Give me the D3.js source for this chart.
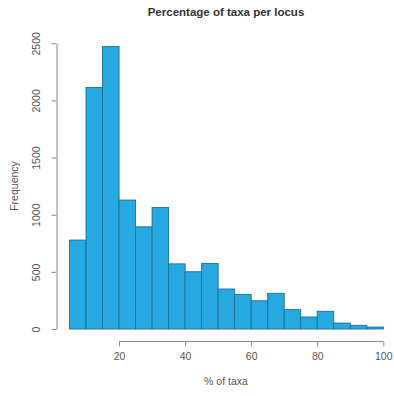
<!DOCTYPE html>
<html>
<head>
<meta charset="utf-8">
<script src="https://cdn.jsdelivr.net/npm/d3@7"></script>
<style>
  body { margin: 0; background: #fff; }
  svg { display: block; font-family: "Liberation Sans", Arial, sans-serif; }
  .axis path, .axis line { stroke: #8a8a8a; }
  .axis text { fill: #555; font-size: 10.5px; }
</style>
</head>
<body>
<svg width="394" height="396"></svg>
<script>
// bin edges (lower bound of each bin, width 5)
const binStarts = [5, 10, 15, 20, 25, 30, 35, 40, 45, 50, 55, 60, 65, 70, 75, 80, 85, 90, 95];
const counts = [778, 2113, 2471, 1128, 894, 1063, 570, 501, 574, 350, 303, 247, 312, 169, 105, 155, 52, 32, 17];
const binWidth = 5;
const xTicks = [20, 40, 60, 80, 100];
const yTicks = [0, 500, 1000, 1500, 2000, 2500];

const svg = d3.select('svg');

const x = d3.scaleLinear().domain([5, 100]).range([69.5, 383.3]);
const y = d3.scaleLinear().domain([0, 2500]).range([329, 43.3]);

// bars
svg.append('g')
    .selectAll('rect')
    .data(binStarts)
    .enter()
    .append('rect')
    .attr('x', (d) => x(d))
    .attr('y', (d, i) => y(counts[i]))
    .attr('width', (d) => x(d + binWidth) - x(d))
    .attr('height', (d, i) => y(0) - y(counts[i]))
    .attr('fill', '#25a9e0')
    .attr('stroke', '#1b6f95')
    .attr('stroke-width', 0.9);

// x axis
const xAxis = svg.append('g')
    .attr('class', 'axis')
    .attr('transform', 'translate(0, 341.5)')
    .call(d3.axisBottom(x).tickValues(xTicks).tickSize(5).tickPadding(6).tickSizeOuter(0));
xAxis.select('.domain').attr('d', `M${x(20)},0H${x(100)}`);

// y axis, labels rotated like R
const yAxis = svg.append('g')
    .attr('class', 'axis')
    .attr('transform', 'translate(56.5, 0)')
    .call(d3.axisLeft(y).tickValues(yTicks).tickFormat(d3.format('d')).tickSize(5).tickSizeOuter(0));
yAxis.selectAll('.tick text')
    .attr('transform', 'rotate(-90)')
    .attr('x', 0)
    .attr('y', -17)
    .attr('dy', 0)
    .attr('text-anchor', 'middle');

svg.append('text')
    .attr('x', 226)
    .attr('y', 16)
    .attr('text-anchor', 'middle')
    .attr('font-weight', 'bold')
    .attr('font-size', 11.5)
    .attr('fill', '#333')
    .text('Percentage of taxa per locus');

svg.append('text')
    .attr('x', 226)
    .attr('y', 385)
    .attr('text-anchor', 'middle')
    .attr('font-size', 10.5)
    .attr('fill', '#555')
    .text('% of taxa');

svg.append('text')
    .attr('transform', 'translate(18, 186) rotate(-90)')
    .attr('text-anchor', 'middle')
    .attr('font-size', 10.5)
    .attr('fill', '#555')
    .text('Frequency');
</script>
</body>
</html>
